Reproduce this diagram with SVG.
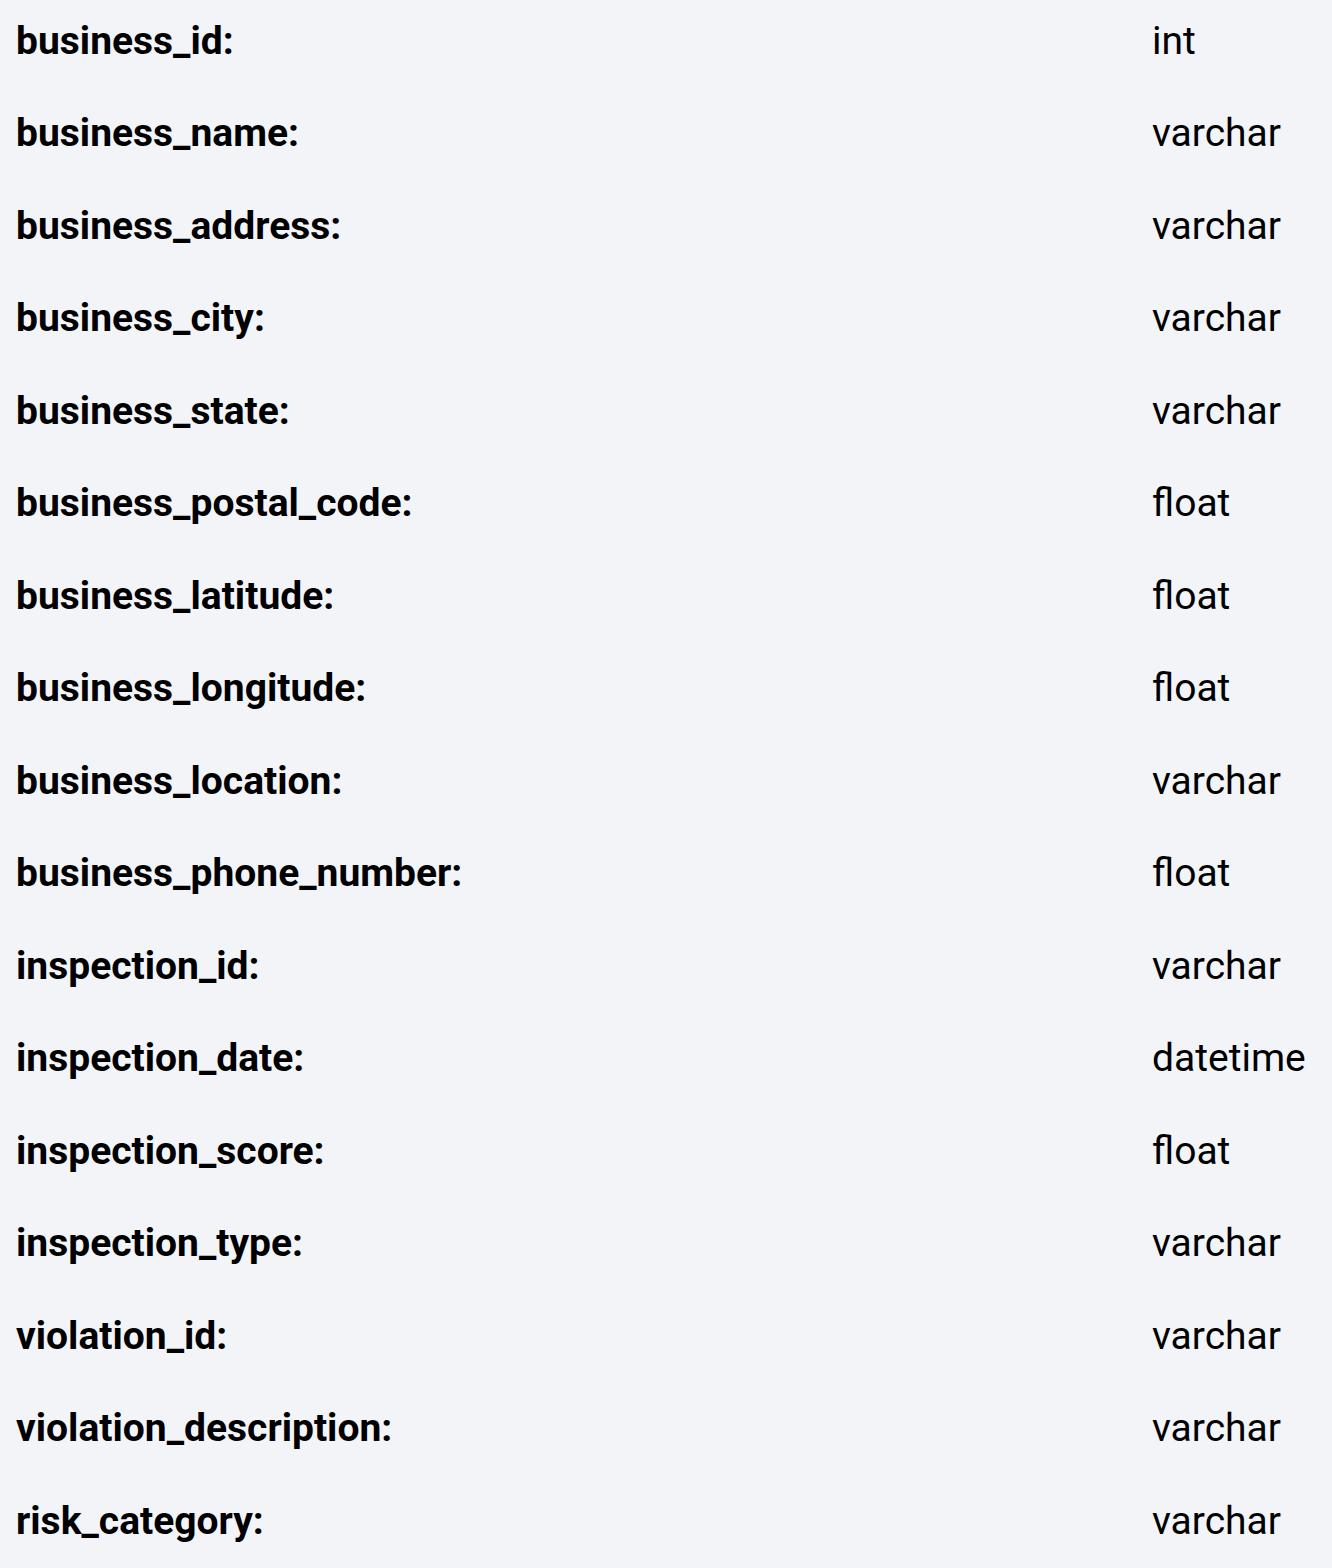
<svg xmlns="http://www.w3.org/2000/svg" width="1332" height="1568" viewBox="0 0 1332 1568">
<style>
.k{font-family:Roboto,"Liberation Sans",sans-serif;font-weight:700;font-size:39px;fill:#000}
.v{font-family:Roboto,"Liberation Sans",sans-serif;font-weight:400;font-size:39px;fill:#000}
</style>
<rect width="1332" height="1568" fill="#f3f4f8"/>
<g id="r1"><text class="k" x="16" y="53.5">business_id:</text><text class="v" x="1152" y="53.5">int</text></g>
<g id="r2"><text class="k" x="16" y="146">business_name:</text><text class="v" x="1152" y="146">varchar</text></g>
<g id="r3"><text class="k" x="16" y="238.5">business_address:</text><text class="v" x="1152" y="238.5">varchar</text></g>
<g id="r4"><text class="k" x="16" y="331">business_city:</text><text class="v" x="1152" y="331">varchar</text></g>
<g id="r5"><text class="k" x="16" y="423.5">business_state:</text><text class="v" x="1152" y="423.5">varchar</text></g>
<g id="r6"><text class="k" x="16" y="516">business_postal_code:</text><text class="v" x="1152" y="516">float</text></g>
<g id="r7"><text class="k" x="16" y="608.5">business_latitude:</text><text class="v" x="1152" y="608.5">float</text></g>
<g id="r8"><text class="k" x="16" y="701">business_longitude:</text><text class="v" x="1152" y="701">float</text></g>
<g id="r9"><text class="k" x="16" y="793.5">business_location:</text><text class="v" x="1152" y="793.5">varchar</text></g>
<g id="r10"><text class="k" x="16" y="886">business_phone_number:</text><text class="v" x="1152" y="886">float</text></g>
<g id="r11"><text class="k" x="16" y="978.5">inspection_id:</text><text class="v" x="1152" y="978.5">varchar</text></g>
<g id="r12"><text class="k" x="16" y="1071">inspection_date:</text><text class="v" x="1152" y="1071">datetime</text></g>
<g id="r13"><text class="k" x="16" y="1163.5">inspection_score:</text><text class="v" x="1152" y="1163.5">float</text></g>
<g id="r14"><text class="k" x="16" y="1256">inspection_type:</text><text class="v" x="1152" y="1256">varchar</text></g>
<g id="r15"><text class="k" x="16" y="1348.5">violation_id:</text><text class="v" x="1152" y="1348.5">varchar</text></g>
<g id="r16"><text class="k" x="16" y="1441">violation_description:</text><text class="v" x="1152" y="1441">varchar</text></g>
<g id="r17"><text class="k" x="16" y="1533.5">risk_category:</text><text class="v" x="1152" y="1533.5">varchar</text></g>
</svg>
